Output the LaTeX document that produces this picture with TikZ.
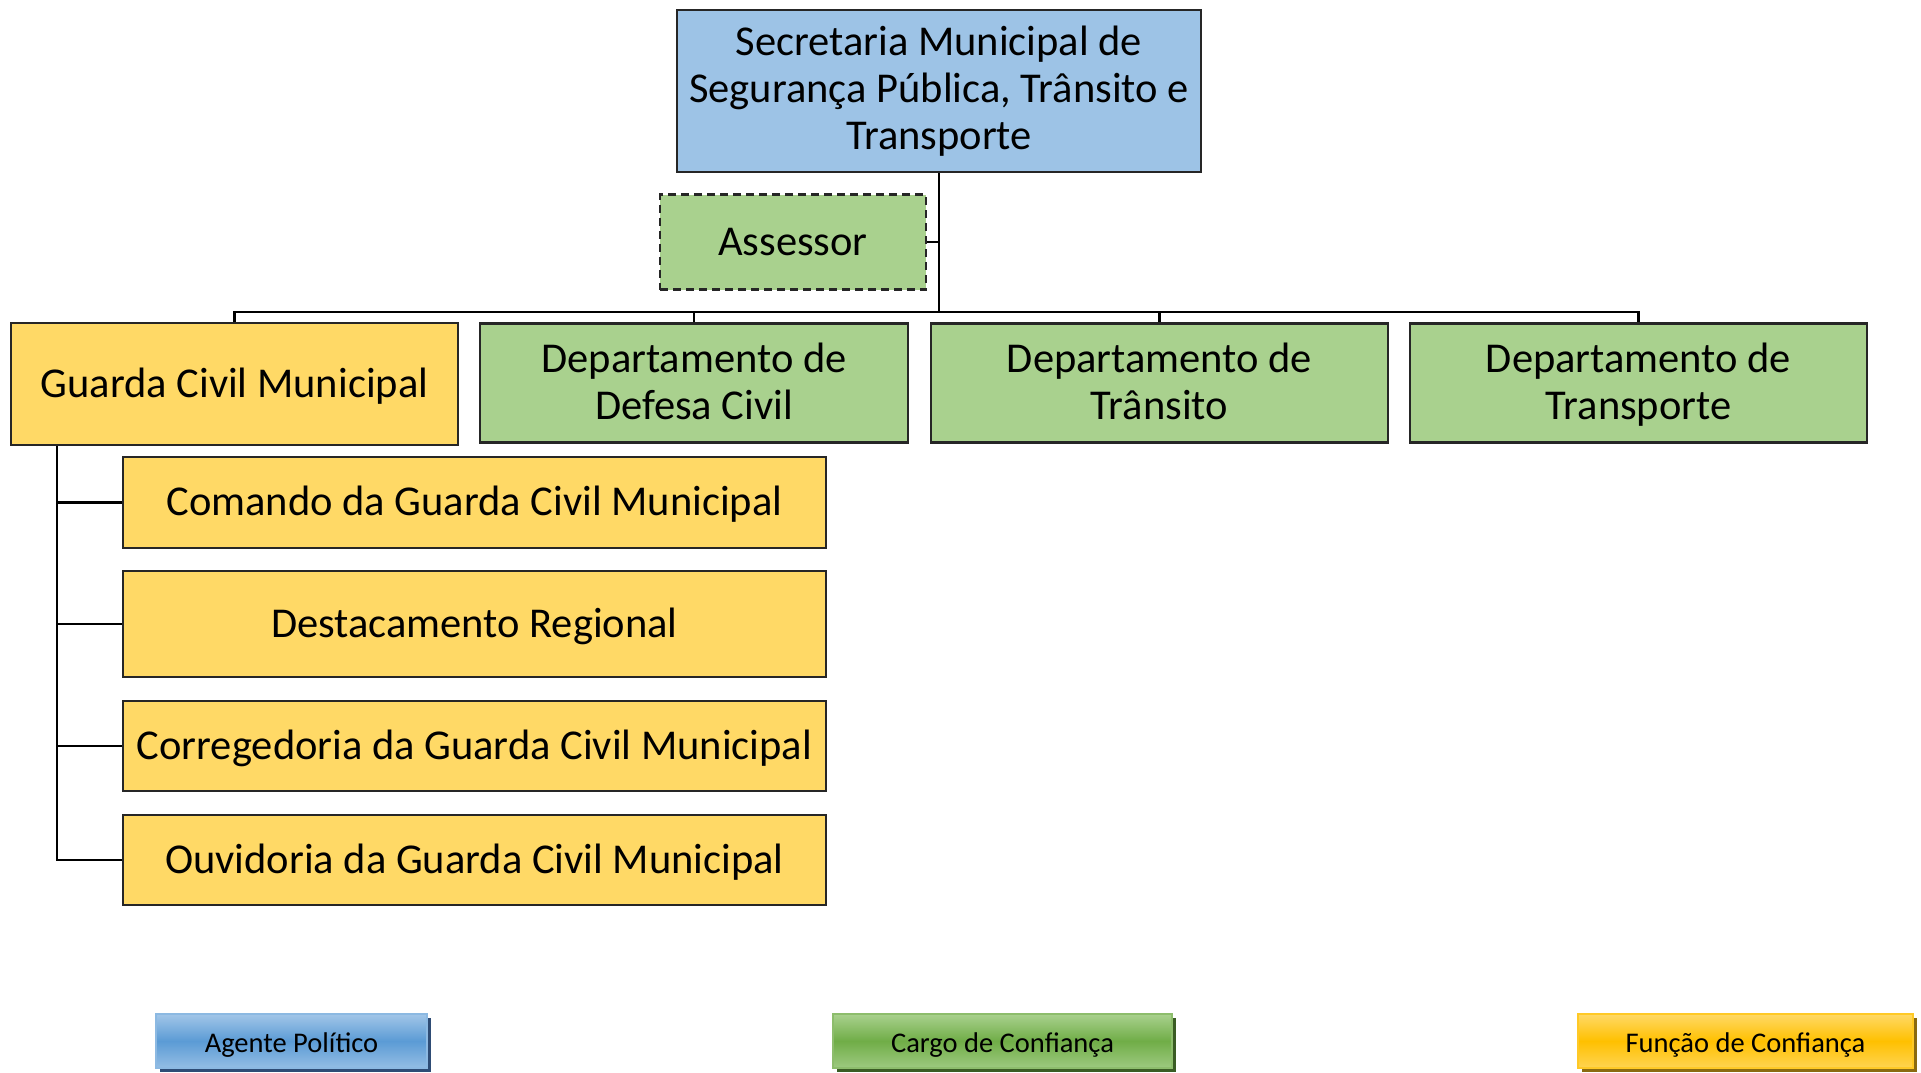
\documentclass[tikz,border=0pt]{standalone}
\usepackage{fontspec}
\setmainfont{Carlito}
\definecolor{cblue}{HTML}{9DC3E6}
\definecolor{cgreen}{HTML}{A9D18E}
\definecolor{cyellow}{HTML}{FFD966}
\definecolor{lbmid}{HTML}{5B9BD5}
\definecolor{lgmid}{HTML}{70AD47}
\definecolor{lymid}{HTML}{FFC000}
\definecolor{lbtop}{HTML}{A2C6E8}
\definecolor{lgtop}{HTML}{A9D18E}
\definecolor{lytop}{HTML}{FFD966}
\definecolor{lbsh}{HTML}{2E4C75}
\definecolor{lgsh}{HTML}{3A5C24}
\definecolor{lysh}{HTML}{8A6A10}
\begin{document}
\begin{tikzpicture}[x=1pt,y=-1pt,
  box/.style={draw=black!85,line width=2.2pt,align=center,inner sep=0pt,
    font=\fontsize{42.5}{47}\selectfont,text=black},
  two/.style={text height=81pt,text depth=8pt},
  one/.style={text height=34pt,text depth=7.5pt},
  link/.style={draw=black,line width=2.2pt},
  legend/.style={inner sep=0pt,line width=1.5pt},
  legtext/.style={inner sep=0pt,anchor=base,font=\fontsize{28.5}{32}\selectfont,text=black}
]
\useasboundingbox (0,0) rectangle (1921,1072);
\fill[white] (0,0) rectangle (1921,1072);

\node[box,fill=cblue,minimum width=524pt,minimum height=162pt] (top) at (939,91)
  {Secretaria Municipal de\\Segurança Pública, Trânsito e\\Transporte};
\node[box,fill=cgreen,dash pattern=on 8pt off 5pt,minimum width=266pt,minimum height=95pt] (assessor) at (793,242) {Assessor};

\node[box,one,fill=cyellow,minimum width=447pt,minimum height=122pt] (guarda) at (234.5,384) {Guarda Civil Municipal};
\node[box,two,fill=cgreen,minimum width=428pt,minimum height=119pt] (defesa) at (694,383) {Departamento de\\Defesa Civil};
\node[box,two,fill=cgreen,minimum width=457pt,minimum height=119pt] (transito) at (1159.5,383) {Departamento de\\Trânsito};
\node[box,two,fill=cgreen,minimum width=457pt,minimum height=119pt] (transporte) at (1638.5,383) {Departamento de\\Transporte};

\node[box,one,fill=cyellow,minimum width=703pt,minimum height=91pt] (comando) at (474.5,502.5) {Comando da Guarda Civil Municipal};
\node[box,one,fill=cyellow,minimum width=703pt,minimum height=106pt] (destac) at (474.5,624) {Destacamento Regional};
\node[box,one,fill=cyellow,minimum width=703pt,minimum height=90pt] (correg) at (474.5,746) {Corregedoria da Guarda Civil Municipal};
\node[box,one,fill=cyellow,minimum width=703pt,minimum height=90pt] (ouvid) at (474.5,860) {Ouvidoria da Guarda Civil Municipal};

% connectors
\coordinate (bus) at (939,312);
\coordinate (gx) at (57,0);
\draw[link] (top.south) -- (bus);
\draw[link] (assessor.east) -- (assessor.east -| bus);
\draw[link] (guarda.north) |- (bus) -| (transporte.north);
\draw[link] (defesa.north) -- (defesa.north |- bus);
\draw[link] (transito.north) -- (transito.north |- bus);
\draw[link] (guarda.south -| gx) |- (ouvid.west);
\draw[link] (comando.west) -- (comando.west -| gx);
\draw[link] (destac.west) -- (destac.west -| gx);
\draw[link] (correg.west) -- (correg.west -| gx);

% legend
\fill[lbsh] (160,1018) rectangle (431,1072);
\shade[top color=lbtop,bottom color=lbtop!80!lbmid,middle color=lbmid] (156,1014) rectangle (427,1068);
\node[legend,draw=lbmid!70!white,minimum width=271pt,minimum height=54pt] (lagente) at (291.5,1041) {};
\node[legtext] (tagente) at (291.5,1052) {Agente Político};

\fill[lgsh] (837,1018) rectangle (1176,1072);
\shade[top color=lgtop,bottom color=lgtop!80!lgmid,middle color=lgmid] (833,1014) rectangle (1172,1068);
\node[legend,draw=lgmid!80!white,minimum width=339pt,minimum height=54pt] (lcargo) at (1002.5,1041) {};
\node[legtext] (tcargo) at (1002.5,1052) {Cargo de Confiança};

\fill[lysh] (1582,1018) rectangle (1917,1072);
\shade[top color=lytop,bottom color=lytop!80!lymid,middle color=lymid] (1578,1014) rectangle (1913,1068);
\node[legend,draw=lymid!85!white,minimum width=335pt,minimum height=54pt] (lfuncao) at (1745.5,1041) {};
\node[legtext] (tfuncao) at (1745.5,1052) {Função de Confiança};
\end{tikzpicture}
\end{document}
